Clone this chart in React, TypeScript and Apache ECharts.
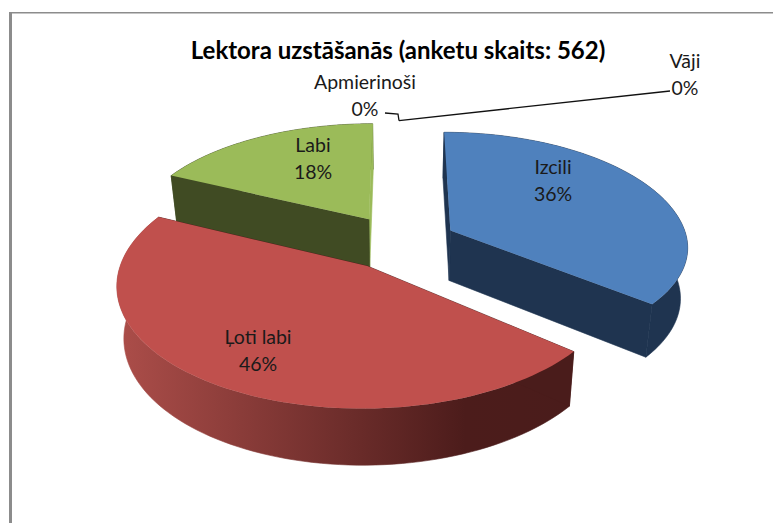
import React, { useEffect, useRef } from "react";
import * as echarts from "echarts";

const categories = ["Izcili", "Ļoti labi", "Labi", "Apmierinoši", "Vāji"];
const percents = [36, 46, 18, 0, 0];
const titleText = "Lektora uzstāšanās (anketu skaits: 562)";

// layout of the projected pie
const FONT = "Lato, 'Open Sans', sans-serif";
const CX = 399, CY = 242, RX = 240, RY = 115, K = 0.141, EXPLODE = 0.24, DEPTH = 50.5, DEPTH_K = 0.09, SHRINK = 0.025;
const topColors = ["#4F81BD", "#C0504D", "#9BBB59"];
const wallColors = ["#1F3450", "#4A1C1B", "#404B23"];
const endWallColors = ["#1F3450", "#4A1C1B", "#9BBB59"];
const sliceOrder = [10, 20, 0];
const lowerSquash = [0.95, 1, 1];
const sideSquash = [0.99, 1, 1];
const labelCenters: [number, number][] = [[553, 180], [258, 350], [313, 158], [365, 95], [685, 74]];
const leaderBends: [number, number][][] = [[], [], [], [[385, 113], [398, 114]], [[670, 91]]];

function project(X: number, Y: number, z: number): [number, number] {
  const w = 1 - K * Y;
  return [CX + (RX * X / w) * (1 - SHRINK * z), CY + RY * Y / w + (z * DEPTH) / (1 - DEPTH_K * Y)];
}
const dir = (t: number): [number, number] => [Math.sin(t), -Math.cos(t)];

function renderItem(params: any, api: any) {
  const i = params.dataIndex;
  const value = api.value(0);
  const total = percents.reduce((a, b) => a + b, 0);
  const before = percents.slice(0, i).reduce((a, b) => a + b, 0);
  const t1 = (before / total) * 2 * Math.PI;
  const t2 = ((before + value) / total) * 2 * Math.PI;
  const mid = (t1 + t2) / 2;
  const [ex, ey] = dir(mid);
  const ox = ex * EXPLODE, oy = ey * EXPLODE;
  const squashY = lowerSquash[i] ?? 1, squashX = sideSquash[i] ?? 1;
  const P = (t: number, r: number, z: number) => {
    const [dx, dy] = dir(t);
    return project(ox + dx * r * squashX, oy + (dy > 0 ? dy * squashY : dy) * r, z);
  };
  const children: any[] = [];
  const [lx, ly] = labelCenters[i];
  children.push({
    type: "text", z2: 100,
    style: {
      x: lx, y: ly, text: categories[i] + "\n" + value + "%", fill: "#1a1a1a",
      font: "19.5px " + FONT, align: "center", verticalAlign: "middle", lineHeight: 27,
    },
  });
  if (value === 0) {
    const points = [P(t1, 1, 0), ...leaderBends[i].slice().reverse()];
    children.push({
      type: "polyline", z2: 99,
      shape: { points },
      style: { stroke: "#111", lineWidth: 1.3, fill: null },
    });
    return { type: "group", children };
  }
  const arcTop: [number, number][] = [], arcBot: [number, number][] = [];
  const n = 90;
  for (let s = 0; s <= n; s++) {
    const t = t1 + ((t2 - t1) * s) / n;
    arcTop.push(P(t, 1, 0));
    arcBot.push(P(t, 1, 1));
  }
  const apex = P(mid, 0, 0), apexB = P(mid, 0, 1);
  const base = sliceOrder[i];
  const wallFill: any = i === 1
    ? new echarts.graphic.LinearGradient(122, 0, 574, 0, [
        { offset: 0, color: "#AB4D49" },
        { offset: 0.76, color: "#4C1C1B" },
        { offset: 1, color: "#4A1C1B" },
      ], true)
    : wallColors[i];
  children.push(
    { type: "polygon", z2: base, shape: { points: [...arcTop, ...arcBot.slice().reverse()] }, style: { fill: wallFill, stroke: wallFill, lineWidth: 0.6 } },
    { type: "polygon", z2: base + 1, shape: { points: [apex, arcTop[n], arcBot[n], apexB] }, style: { fill: endWallColors[i], stroke: endWallColors[i], lineWidth: 0.6 } },
    { type: "polygon", z2: base + 2, shape: { points: [apex, arcTop[0], arcBot[0], apexB] }, style: { fill: wallColors[i], stroke: wallColors[i], lineWidth: 0.6 } },
    { type: "polygon", z2: base + 3, shape: { points: [apex, ...arcTop] }, style: { fill: topColors[i] } },
  );
  return { type: "group", children };
}

export default function App() {
  const ref = useRef<HTMLDivElement>(null);
  useEffect(() => {
    const chart = echarts.init(ref.current!, undefined, { renderer: "svg" });
    chart.setOption({
      animation: false,
      backgroundColor: "#ffffff",
      title: {
        text: titleText, left: 393, top: 32, textAlign: "center",
        textStyle: { fontFamily: FONT, fontSize: 24, fontWeight: "bold", color: "#000" },
      },
      graphic: [
        { type: "rect", shape: { x: 9, y: 12, width: 764, height: 1.5 }, style: { fill: "#8C8C8C" } },
        { type: "rect", shape: { x: 9, y: 12, width: 3, height: 511 }, style: { fill: "#8C8C8C" } },
      ],
      series: [{
        type: "custom", coordinateSystem: "none", silent: true,
        renderItem, data: percents.map((v) => [v]),
      }],
    });
    return () => chart.dispose();
  }, []);
  return <div ref={ref} style={{ position: "absolute", left: 0, top: 0, width: 773, height: 523 }} />;
}
